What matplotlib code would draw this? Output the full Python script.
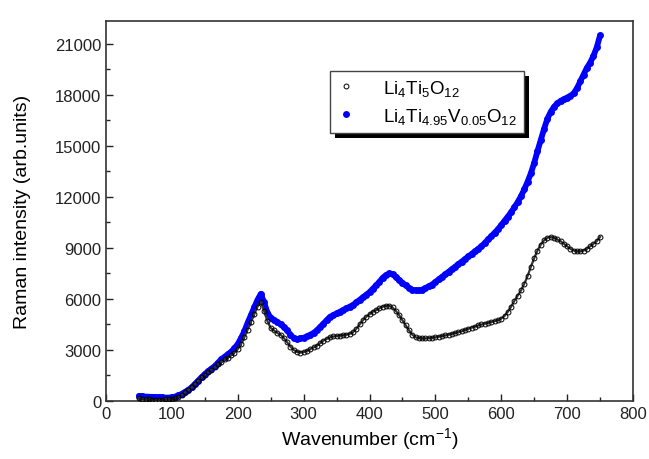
import numpy as np
import matplotlib
matplotlib.use("Agg")
import matplotlib.pyplot as plt
from matplotlib.ticker import MultipleLocator
from matplotlib.patches import Rectangle

plt.rcParams['font.family'] = ['Liberation Sans', 'DejaVu Sans']
plt.rcParams['mathtext.default'] = 'regular'

# wavenumber grid (cm^-1), read every 5 cm^-1 from the picture
wavenumber = np.arange(50, 755, 5)

lto = [150, 120, 100, 90, 80, 80, 80, 80, 90, 100,
       130, 180, 260, 370, 500, 650, 800, 1000, 1200, 1400,
       1550, 1700, 1850, 2000, 2150, 2300, 2450, 2550, 2700, 2850,
       3050, 3350, 3750, 4200, 4650, 5100, 5550, 5850, 5300, 4700,
       4300, 4150, 4000, 3900, 3700, 3450, 3200, 3000, 2900, 2850,
       2880, 2950, 3050, 3150, 3250, 3400, 3550, 3650, 3750, 3800,
       3820, 3850, 3870, 3900, 3950, 4050, 4250, 4500, 4750, 4950,
       5100, 5250, 5350, 5450, 5550, 5600, 5600, 5500, 5300, 5050,
       4750, 4450, 4150, 3900, 3750, 3700, 3680, 3680, 3700, 3720,
       3750, 3780, 3820, 3860, 3900, 3950, 4000, 4050, 4100, 4180,
       4250, 4320, 4380, 4450, 4500, 4550, 4600, 4650, 4700, 4750,
       4850, 5000, 5250, 5550, 5900, 6200, 6500, 6900, 7350, 7900,
       8400, 8850, 9200, 9450, 9600, 9650, 9600, 9500, 9400, 9250,
       9100, 8950, 8850, 8800, 8800, 8850, 8950, 9100, 9250, 9400,
       9650]

ltvo = [300, 280, 260, 250, 240, 230, 220, 210, 200, 200,
        220, 260, 330, 420, 530, 660, 800, 1000, 1200, 1400,
        1580, 1750, 1900, 2050, 2250, 2450, 2600, 2750, 2900, 3100,
        3350, 3700, 4100, 4600, 5050, 5500, 5950, 6300, 5800, 5200,
        4900, 4750, 4650, 4500, 4350, 4150, 3900, 3700, 3650, 3680,
        3720, 3800, 3900, 4000, 4150, 4350, 4550, 4750, 4950, 5050,
        5150, 5250, 5350, 5450, 5550, 5650, 5800, 5950, 6100, 6250,
        6400, 6600, 6800, 7000, 7250, 7400, 7500, 7450, 7300, 7100,
        6950, 6800, 6650, 6550, 6500, 6500, 6550, 6650, 6750, 6850,
        7000, 7150, 7300, 7450, 7600, 7750, 7900, 8050, 8200, 8350,
        8500, 8650, 8800, 8950, 9100, 9300, 9500, 9700, 9900, 10100,
        10350, 10600, 10850, 11100, 11400, 11700, 12050, 12450, 12900, 13400,
        14000, 14700, 15350, 16000, 16600, 17000, 17300, 17500, 17650, 17750,
        17850, 17950, 18100, 18400, 18800, 19200, 19600, 19900, 20300, 20800,
        21500]

fig = plt.figure(figsize=(6.49, 4.60), dpi=100)
ax = fig.add_axes([106 / 649, 58 / 460, 527 / 649, 380 / 460])

# dense measured points -> draw as a band of markers joined by a same-colour line
ax.plot(wavenumber, ltvo, '-', color='blue', linewidth=4.2, solid_capstyle='round',
        zorder=2)
ax.plot(wavenumber, ltvo, 'o', color='blue', markersize=5, markeredgewidth=0,
        label=r'Li$_4$Ti$_{4.95}$V$_{0.05}$O$_{12}$', zorder=2)
ax.plot(wavenumber, lto, '-', color='#333333', linewidth=1.6, zorder=3)
ax.plot(wavenumber, lto, 'o', markerfacecolor='none', markeredgecolor='black',
        markersize=3.5, markeredgewidth=0.7, label=r'Li$_4$Ti$_5$O$_{12}$', zorder=3)

ax.set_xlim(0, 800)
ax.set_ylim(0, 22350)
ax.xaxis.set_major_locator(MultipleLocator(100))
ax.xaxis.set_minor_locator(MultipleLocator(50))
ax.yaxis.set_major_locator(MultipleLocator(3000))
ax.yaxis.set_minor_locator(MultipleLocator(1500))
ax.tick_params(which='both', direction='in', top=False, right=False,
               labelsize=12, colors='#222222')
ax.tick_params(which='major', length=5, width=1)
ax.tick_params(which='minor', length=3, width=1)
for s in ax.spines.values():
    s.set_color('#333333')
    s.set_linewidth(1.2)

ax.set_xlabel('Wavenumber (cm$^{-1}$)', fontsize=14, labelpad=3)
ax.set_ylabel('Raman intensity (arb.units)', fontsize=14, labelpad=17)

handles, labels = ax.get_legend_handles_labels()
leg = ax.legend(handles[::-1], labels[::-1], loc='upper left',
                bbox_to_anchor=((330 - 106) / 527, (402 - 72) / 380),
                borderaxespad=0, fontsize=13.5, fancybox=False, framealpha=1,
                borderpad=0.35, handletextpad=1.5, labelspacing=0.45,
                handlelength=1.0)
leg.get_frame().set_edgecolor('#444444')
leg.get_frame().set_linewidth(1.0)
leg.set_zorder(6)

# hard black drop shadow behind the legend box
fig.canvas.draw()
bb = leg.get_window_extent().transformed(fig.transFigure.inverted())
dx, dy = 5 / 649, 5 / 460
ax.add_patch(Rectangle((bb.x0 + dx, bb.y0 - dy), bb.width, bb.height,
                       transform=fig.transFigure, facecolor='black',
                       edgecolor='none', zorder=5, clip_on=False))

fig.savefig('out.png', dpi=100)
